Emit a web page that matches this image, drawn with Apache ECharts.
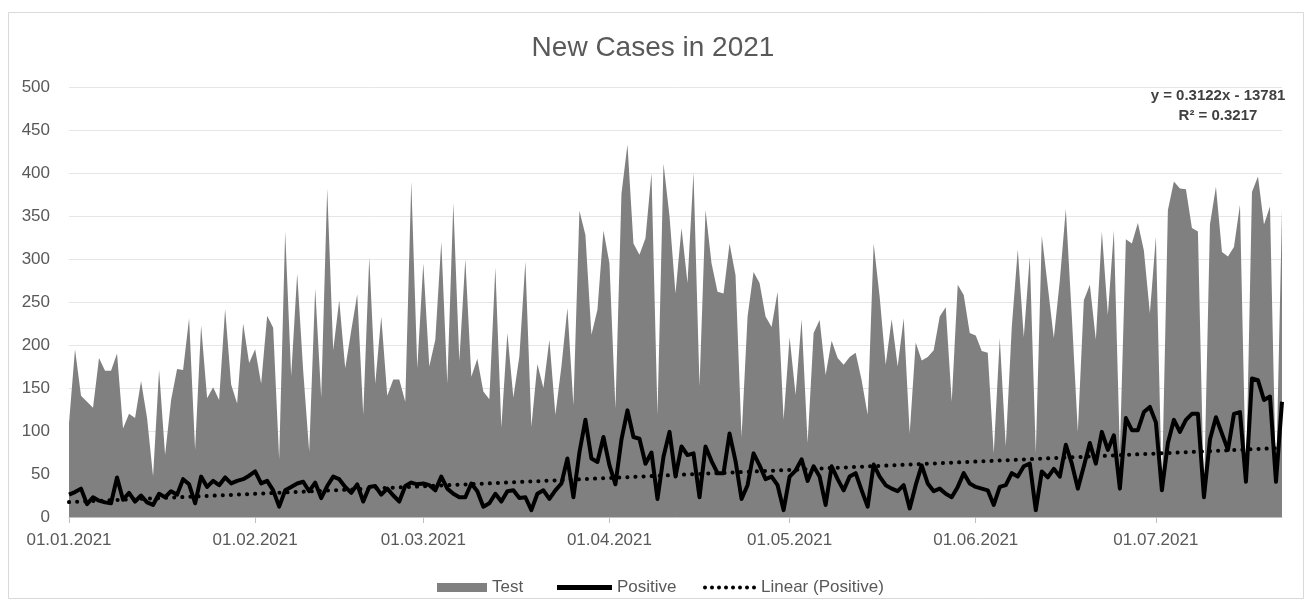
<!DOCTYPE html>
<html>
<head>
    <meta charset="UTF-8">
    <title>New Cases in 2021</title>
    <script src="https://cdn.jsdelivr.net/npm/echarts@6/dist/echarts.min.js"></script>
</head>
<body style="margin: 0;overflow: hidden;background: #fff;">
<div id="chart" style="width: 1306px;height: 601px;"></div>
<script type="text/javascript">
    // daily values from 01.01.2021, one per day
    var TEST = [
        109, 195, 141, 134, 127, 185, 170, 170, 190, 103, 120, 115, 158, 115, 47, 171, 72, 136, 172, 171,
        231, 78, 223, 138, 151, 136, 242, 154, 132, 225, 179, 195, 155, 234, 220, 67, 332, 164, 283,
        170, 76, 266, 139, 382, 194, 252, 173, 217, 259, 119, 302, 155, 233, 141, 160, 160, 134, 390, 173, 295,
        175, 206, 320, 155, 365, 181, 300, 163, 184, 146, 137, 290, 104, 214, 139, 187, 297, 105, 178, 150,
        206, 119, 175, 243, 130, 356, 328, 212, 241, 333, 295, 126, 376, 433, 318, 305, 324, 400, 119, 411,
        350, 260, 336, 272, 401, 152, 357, 295, 262, 260, 318, 281, 93, 233, 285, 272, 233, 221, 262, 113,
        209, 142, 230, 86, 214, 229, 165, 205, 185, 177, 186, 191, 159, 119, 318, 256, 177, 230, 175, 231,
        97, 203, 182, 186, 194, 233, 244, 134, 270, 258, 214, 211, 193, 191, 74, 208, 82, 221, 311, 209,
        303, 74, 327, 268, 208, 275, 358, 233, 99, 252, 270, 206, 332, 235, 333, 76, 323, 318, 342, 310,
        237, 326, 31, 357, 390, 382, 381, 336, 332, 23, 340, 384, 308, 303, 314, 363, 39, 378, 396, 340, 361, 39, 357
    ];
    var POSITIVE = [
        26, 29, 33, 15, 23, 19, 17, 16, 46, 20, 28, 18, 25, 17, 14, 27, 23, 30, 26, 44,
        38, 16, 47, 35, 42, 37, 46, 39, 42, 44, 48, 53, 39, 42, 31, 12, 31, 35, 39, 41,
        30, 40, 22, 36, 47, 44, 35, 28, 38, 18, 35, 36, 26, 33, 25, 18, 36, 40, 38, 39,
        37, 31, 47, 33, 27, 23, 23, 39, 30, 12, 16, 27, 18, 30, 31, 22, 23, 8, 27, 31,
        21, 31, 39, 68, 23, 75, 113, 68, 64, 93, 60, 38, 90, 124, 93, 91, 62, 75, 21, 70,
        99, 47, 82, 72, 74, 23, 82, 65, 51, 51, 97, 65, 21, 37, 74, 60, 44, 47, 37, 8,
        47, 54, 67, 42, 59, 47, 14, 59, 44, 31, 47, 51, 31, 12, 61, 47, 37, 33, 30, 37,
        10, 37, 60, 39, 30, 33, 27, 23, 35, 51, 39, 35, 33, 31, 14, 35, 37, 51, 47, 59,
        62, 8, 53, 46, 56, 47, 84, 62, 33, 59, 86, 62, 99, 78, 95, 33, 115, 101, 101, 122,
        128, 110, 31, 86, 113, 99, 113, 120, 120, 23, 90, 116, 97, 78, 120, 122, 41, 161, 159, 136, 140, 41, 134
    ];
    // trendline as printed on the chart (x = Excel date serial)
    var TREND_SLOPE = 0.3122;
    var TREND_INTERCEPT = -13781;
    var FIRST_SERIAL = 44197; // 01.01.2021
    var Y_TICKS = [0, 50, 100, 150, 200, 250, 300, 350, 400, 450, 500];

    var FONT = 'Liberation Sans, Arial, sans-serif';
    var TEXT = '#595959';

    var days = [];
    for (var i = 0; i < TEST.length; i++) {
        var d = new Date(Date.UTC(2021, 0, 1 + i));
        var dd = ('0' + d.getUTCDate()).slice(-2);
        var mm = ('0' + (d.getUTCMonth() + 1)).slice(-2);
        days.push(dd + '.' + mm + '.' + d.getUTCFullYear());
    }
    var trend = days.map(function (v, i) {
        return +(TREND_SLOPE * (FIRST_SERIAL + i) + TREND_INTERCEPT).toFixed(2);
    });
    function monthStart(idx, value) {
        return value.slice(0, 3) === '01.';
    }

    // dotted legend icon: a row of small round dots
    var dots = '';
    for (var k = 0; k < 8; k++) {
        dots += 'M' + (k * 7) + ',2a2,2 0 1,0 4,0a2,2 0 1,0 -4,0Z';
    }

    var chart = echarts.init(document.getElementById('chart'));
    var option = {
        backgroundColor: '#fff',
        animation: false,
        textStyle: {fontFamily: FONT},
        title: {
            text: 'New Cases in 2021',
            left: 'center',
            top: 29,
            textStyle: {fontSize: 28, fontWeight: 'normal', color: TEXT, fontFamily: FONT}
        },
        legend: [{
            data: [{name: 'Test', icon: 'rect'}],
            left: 432, top: 574,
            itemWidth: 50, itemHeight: 9,
            textStyle: {fontSize: 17, color: TEXT, fontFamily: FONT}
        }, {
            data: [{name: 'Positive', icon: 'rect'}],
            left: 552, top: 574,
            itemWidth: 55, itemHeight: 5,
            itemStyle: {color: '#000'},
            textStyle: {fontSize: 17, color: TEXT, fontFamily: FONT}
        }, {
            data: [{name: 'Linear (Positive)', icon: 'path://' + dots}],
            left: 698, top: 574,
            itemWidth: 53, itemHeight: 4,
            itemStyle: {color: '#000'},
            textStyle: {fontSize: 17, color: TEXT, fontFamily: FONT}
        }],
        grid: {left: 69, right: 24, top: 87, bottom: 84},
        xAxis: {
            type: 'category',
            data: days,
            boundaryGap: false,
            axisLine: {lineStyle: {color: '#bfbfbf', width: 1}},
            axisTick: {interval: monthStart, length: 6, lineStyle: {color: '#bfbfbf'}},
            axisLabel: {interval: monthStart, color: TEXT, fontSize: 17, margin: 15, fontFamily: FONT},
            splitLine: {show: false}
        },
        yAxis: {
            type: 'value',
            min: Y_TICKS[0],
            max: Y_TICKS[Y_TICKS.length - 1],
            interval: Y_TICKS[1] - Y_TICKS[0],
            axisLine: {show: false},
            axisTick: {show: false},
            axisLabel: {color: TEXT, fontSize: 17, margin: 19, fontFamily: FONT},
            splitLine: {lineStyle: {color: '#e6e6e6', width: 1}}
        },
        graphic: [{
            type: 'rect',
            shape: {x: 8.5, y: 12.5, width: 1295, height: 586},
            style: {fill: 'none', stroke: '#d9d9d9', lineWidth: 1},
            silent: true
        }, {
            type: 'text',
            x: 1218, y: 86,
            style: {
                text: 'y = 0.3122x - 13781\nR² = 0.3217',
                textAlign: 'center',
                font: 'bold 15px ' + FONT,
                lineHeight: 20,
                fill: '#404040'
            }
        }],
        series: [{
            name: 'Test',
            type: 'line',
            data: TEST,
            symbol: 'none',
            lineStyle: {width: 0},
            itemStyle: {color: '#808080'},
            areaStyle: {color: '#808080', opacity: 1}
        }, {
            name: 'Positive',
            type: 'line',
            data: POSITIVE,
            symbol: 'none',
            itemStyle: {color: '#000'},
            lineStyle: {color: '#000', width: 4, join: 'round'}
        }, {
            name: 'Linear (Positive)',
            type: 'line',
            data: trend,
            symbol: 'none',
            itemStyle: {color: '#000'},
            lineStyle: {color: '#000', width: 4, type: [0.1, 8], cap: 'round'}
        }]
    };
    chart.setOption(option);
</script>
</body>
</html>
